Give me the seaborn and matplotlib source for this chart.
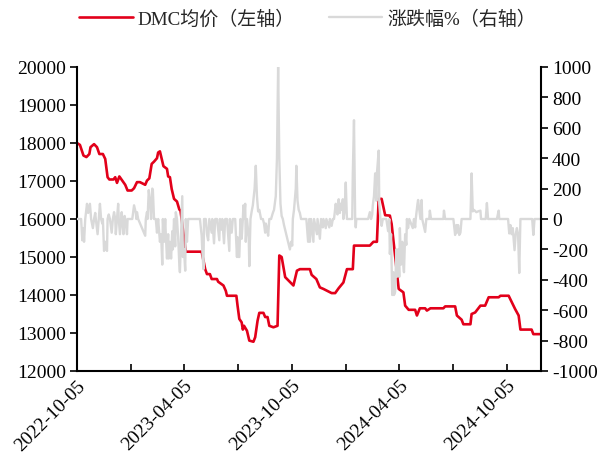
import matplotlib
matplotlib.use("Agg")
import matplotlib.pyplot as plt
import matplotlib.dates as mdates
import pandas as pd
import seaborn as sns

# Trading dates are stored as day offsets from the first observation
start_date = "2022-10-05"
end_day = 789

# DMC average price (yuan/ton), left axis
price_day = [0, 5, 11, 16, 21, 23, 29, 34, 38, 44, 48, 52, 55, 62, 65, 68, 72, 78, 82, 86,
             93, 97, 102, 107, 116, 119, 123, 127, 131, 136, 138, 141, 144, 147, 153, 155, 158,
             161, 165, 170, 174, 176, 185, 212, 218, 221, 226, 229, 238, 240, 249, 253, 255,
             271, 273, 276, 280, 282, 284, 289, 293, 300, 303, 307, 310, 317, 320, 324, 327,
             334, 341, 344, 348, 354, 368, 374, 379, 396, 399, 407, 413, 419, 433, 439, 445,
             453, 459, 469, 471, 498, 504, 510, 513, 518, 524, 532, 535, 547, 555, 558, 564,
             575, 578, 583, 592, 595, 601, 623, 626, 643, 646, 654, 657, 669, 671, 677, 686,
             694, 700, 717, 720, 734, 739, 745, 751, 754, 773, 776, 789]
price = [18000, 17950, 17670, 17630, 17710, 17890, 17970, 17890, 17710, 17710, 17580, 17100,
         17040, 17040, 17100, 16950, 17120, 16990, 16900, 16750, 16750, 16810, 16970, 16970,
         16900, 17010, 17070, 17450, 17510, 17600, 17750, 17780, 17580, 17390, 17320, 17120,
         17100, 16790, 16530, 16460, 16250, 16220, 15140, 15140, 14680, 14550, 14550, 14420,
         14420, 14350, 14250, 14110, 13980, 13980, 13720, 13370, 13280, 13090, 13190, 13060,
         12800, 12770, 12890, 13320, 13530, 13530, 13420, 13420, 13190, 13150, 13190, 15040,
         15000, 14470, 14250, 14640, 14680, 14680, 14530, 14420, 14200, 14160, 14050, 14050,
         14180, 14330, 14680, 14680, 15300, 15300, 15400, 15400, 16530, 16530, 16100, 16090,
         15870, 14160, 14070, 13720, 13610, 13610, 13460, 13650, 13650, 13590, 13650, 13650,
         13700, 13700, 13460, 13350, 13230, 13230, 13500, 13540, 13720, 13720, 13940, 13940,
         13980, 13980, 13820, 13630, 13460, 13090, 13090, 12970, 12970]

# Change (%), right axis
chg_day = [0, 7, 9, 11, 12, 14, 17, 19, 20, 22, 24, 27, 29, 31, 32, 35, 37, 39, 41, 43, 44,
           46, 48, 51, 52, 54, 56, 59, 61, 63, 65, 66, 68, 70, 71, 73, 75, 76, 77, 79, 81, 82,
           85, 86, 94, 97, 100, 101, 102, 104, 116, 117, 119, 120, 122, 124, 126, 128, 129,
           131, 134, 136, 138, 141, 143, 145, 146, 148, 150, 151, 153, 155, 156, 158, 160, 162,
           163, 165, 167, 168, 170, 172, 174, 175, 177, 179, 180, 182, 184, 185, 187, 189, 209,
           212, 213, 215, 216, 219, 221, 223, 225, 229, 230, 233, 235, 238, 242, 243, 246, 247,
           250, 252, 255, 259, 260, 263, 265, 269, 272, 273, 275, 276, 278, 280, 282, 283, 284,
           286, 287, 289, 292, 293, 295, 297, 299, 302, 304, 306, 308, 310, 313, 316, 318, 320,
           321, 323, 325, 327, 330, 333, 335, 338, 340, 342, 344, 346, 348, 350, 352, 357, 362,
           364, 366, 367, 369, 372, 373, 375, 377, 379, 381, 390, 393, 395, 396, 398, 402, 403,
           408, 409, 413, 415, 418, 419, 423, 424, 429, 430, 433, 435, 437, 440, 441, 443, 445,
           447, 448, 450, 452, 453, 455, 457, 459, 464, 468, 469, 471, 473, 474, 475, 495, 498,
           500, 502, 503, 505, 507, 509, 510, 513, 514, 516, 518, 520, 526, 529, 531, 532, 534,
           536, 538, 539, 541, 543, 544, 546, 548, 549, 551, 553, 555, 556, 558, 560, 561, 563,
           565, 571, 573, 575, 576, 579, 580, 582, 584, 586, 587, 592, 594, 599, 600, 602, 623,
           624, 626, 640, 643, 645, 646, 648, 650, 652, 654, 669, 671, 673, 675, 679, 682, 686,
           687, 695, 697, 699, 714, 717, 718, 733, 735, 737, 739, 741, 744, 746, 748, 750, 752,
           754, 774, 776, 778, 789]
chg = [0, 0, -140, -60, -150, 0, 100, 40, 60, 100, 0, -60, 0, 40, 0, -100, 0, 100, 0, -30, 0,
       -210, -150, -210, 0, 30, 0, -90, 0, 45, 0, -100, 0, 100, 0, -100, 0, 45, 0, -100, 20, 0,
       -100, 0, 0, 90, 40, 0, 45, 0, -110, 0, 45, 0, 190, 120, 0, 200, 190,
       0, 0, -90, 0, -150, -100, -300, 0, -150, 0, -100, -260, -100, -260, -150, -260, -80,
       -200, 0, -180, 45, 0, -120, -300, -350, -100, 150, -250, -200, -340, 0, -150, 0, 0,
       -110, -200, -330, 0, 0, -100, -140, 0, -90, 0, -160, 0, 0, -140, 0, -70, 0,
       -160, 0, 0, -210, 0, -90, 0, 0, -250, -120, -250, -250, 0, -130, 0, 90, 0,
       100, -150, 0, -120, -310, 0, 50, 90, 200, 350, 150, 50, 60, 0, 0, -30, -90,
       -30, -60, -110, 0, 0, 40, 60, 150, 400, 1000, 400, 100, 20, 0, -40, -120, -200,
       -150, -175, 0, 60, 200, 350, 120, 60, 40, 0, 0, -150, 0, -150, 0, -150, 0,
       -100, 0, -130, 0, -55, 0, -60, 0, -55, 0, -45, 0, 0, 100, 60, 30, 130,
       40, 100, 60, 130, 0, 50, 240, 0, 0, 0, 300, 650, 0, -55, 0, 0, 45,
       0, 30, 90, 150, 300, 120, 300, 450, 100, 0, -45, 0, 0, -80, 0, -230, -100,
       -500, -350, -500, -480, -200, -380, -200, -380, -60, -300, -150, -310, -350, -100, -170, 0, -60,
       0, -60, 0, -55, 0, 100, 125, 60, 0, 125, 0, -85, 0, 0, 55, 0, 0,
       55, 0, 0, -105, -40, -90, -40, -105, -90, 0, 0, 300, 50, 60, 45, 50, 55,
       0, 0, 105, 0, 0, 55, 0, 0, -95, -40, -100, -60, -205, -100, -60, -100, -355,
       0, 0, -105, 0, 0]

major_dates = ["2022-10-05", "2023-04-05", "2023-10-05", "2024-04-05", "2024-10-05"]
minor_dates = ["2023-01-05", "2023-07-05", "2024-01-05", "2024-07-05"]

price_label = "DMC均价（左轴）"
chg_label = "涨跌幅%（右轴）"

RED = "#e2001a"
GREY = "#d9d9d9"

sns.set_theme(style="white")
plt.rcParams["font.family"] = ["Liberation Serif", "Noto Sans CJK SC"]
plt.rcParams["axes.unicode_minus"] = False

t0 = pd.Timestamp(start_date)
df_price = pd.DataFrame({"date": t0 + pd.to_timedelta(price_day, unit="D"), "value": price})
df_chg = pd.DataFrame({"date": t0 + pd.to_timedelta(chg_day, unit="D"), "value": chg})

fig = plt.figure(figsize=(6.12, 4.6), dpi=100)
ax = fig.add_axes([77 / 612, 1 - 372 / 460, (541 - 77) / 612, (372 - 68) / 460])
ax2 = ax.twinx()

sns.lineplot(data=df_price, x="date", y="value", ax=ax, color=RED, linewidth=1.9,
             label=price_label, legend=False)
sns.lineplot(data=df_chg, x="date", y="value", ax=ax2, color=GREY, linewidth=1.7,
             label=chg_label, legend=False)

ax.set_xlim(t0, t0 + pd.Timedelta(days=end_day))
ax.set_ylim(12000, 20000)
ax.set_yticks(range(12000, 20001, 1000))
ax2.set_ylim(-1000, 1000)
ax2.set_yticks(range(-1000, 1001, 200))

ax.set_xticks(pd.to_datetime(major_dates))
ax.set_xticks(pd.to_datetime(minor_dates), minor=True)
ax.xaxis.set_major_formatter(mdates.DateFormatter("%Y-%m-%d"))
for lab in ax.get_xticklabels():
    lab.set_rotation(45)
    lab.set_ha("right")
    lab.set_rotation_mode("anchor")

for a in (ax, ax2):
    a.set_xlabel("")
    a.set_ylabel("")
    a.grid(False)
    for s in a.spines.values():
        s.set_color("black")
        s.set_linewidth(1.5)
    a.spines["top"].set_visible(False)
ax.spines["right"].set_visible(False)
ax2.spines["left"].set_visible(False)
ax2.spines["bottom"].set_visible(False)

ax.tick_params(axis="x", which="both", direction="in", length=5, width=1.2,
               labelsize=14, colors="black", pad=4, bottom=True)
ax.tick_params(axis="y", direction="out", length=5, width=1.2, labelsize=14,
               colors="black", left=True, pad=3)
ax2.tick_params(axis="y", direction="out", length=5, width=1.2, labelsize=14,
                colors="black", right=True, pad=3)

h1, l1 = ax.get_legend_handles_labels()
h2, l2 = ax2.get_legend_handles_labels()
fig.legend(h1 + h2, l1 + l2, loc="center", bbox_to_anchor=(0.5025, 0.958), ncol=2,
           frameon=False, fontsize=13.7, handlelength=2.8, handletextpad=0.25,
           columnspacing=1.8)

fig.savefig("out.png", dpi=100)
